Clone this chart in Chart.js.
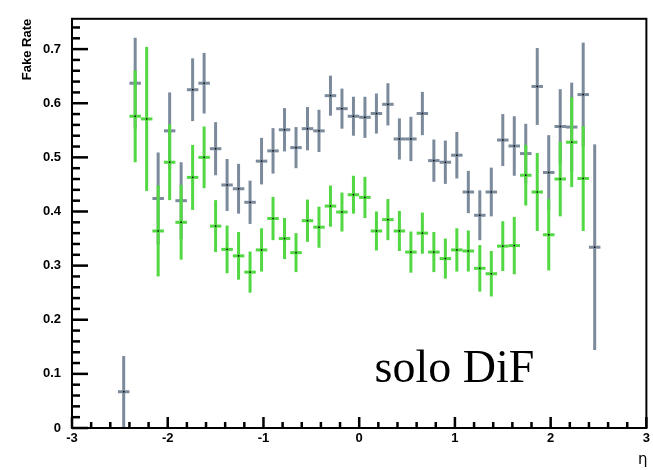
<!DOCTYPE html>
<html>
<head>
<meta charset="utf-8">
<title>Fake Rate vs eta</title>
<script src="https://cdn.jsdelivr.net/npm/chart.js@4.4.1/dist/chart.umd.min.js"></script>
<style>
    html, body { margin: 0; padding: 0; background: #fff; }
    #wrap { width: 653px; height: 470px; }
</style>
</head>
<body>
<div id="wrap"><canvas id="fakeRateChart" width="653" height="470"></canvas></div>
<script>
// bin centres in eta (bins are 0.12 wide)
const etaCenters = [
    -2.46, -2.34, -2.22, -2.10, -1.98, -1.86, -1.74, -1.62, -1.50, -1.38,
    -1.26, -1.14, -1.02, -0.90, -0.78, -0.66, -0.54, -0.42, -0.30, -0.18,
    -0.06, 0.06, 0.18, 0.30, 0.42, 0.54, 0.66, 0.78, 0.90, 1.02,
    1.14, 1.26, 1.38, 1.50, 1.62, 1.74, 1.86, 1.98, 2.10, 2.22,
    2.34, 2.46
];
const binWidth = 0.12;

// grey histogram
const greyRate = [
    0.067, 0.637, null, 0.424, 0.549, 0.420, 0.625, 0.637, 0.516, 0.449,
    0.442, 0.417, 0.493, 0.512, 0.551, 0.518, 0.553, 0.549, 0.614, 0.590,
    0.576, 0.574, 0.581, 0.598, 0.534, 0.534, 0.581, 0.494, 0.491, 0.504,
    0.436, 0.393, 0.436, 0.532, 0.521, 0.507, 0.631, 0.472, 0.557, 0.556,
    0.616, 0.334
];
const greyErr = [
    0.066, 0.084, null, 0.085, 0.071, 0.071, 0.058, 0.056, 0.049, 0.048,
    0.046, 0.040, 0.043, 0.042, 0.040, 0.038, 0.040, 0.039, 0.037, 0.037,
    0.036, 0.038, 0.037, 0.039, 0.038, 0.041, 0.040, 0.039, 0.040, 0.043,
    0.039, 0.046, 0.045, 0.048, 0.055, 0.055, 0.071, 0.069, 0.069, 0.082,
    0.096, 0.190
];

// green histogram
const greenRate = [
    null, 0.576, 0.571, 0.364, 0.491, 0.380, 0.463, 0.500, 0.373, 0.330,
    0.318, 0.288, 0.329, 0.387, 0.350, 0.324, 0.383, 0.371, 0.410, 0.399,
    0.431, 0.426, 0.364, 0.385, 0.364, 0.325, 0.360, 0.325, 0.313, 0.329,
    0.327, 0.295, 0.285, 0.336, 0.337, 0.467, 0.436, 0.357, 0.460, 0.528,
    0.461, null
];
const greenErr = [
    null, 0.085, 0.133, 0.084, 0.070, 0.069, 0.060, 0.057, 0.048, 0.044,
    0.044, 0.038, 0.040, 0.040, 0.038, 0.036, 0.039, 0.038, 0.038, 0.036,
    0.035, 0.038, 0.036, 0.038, 0.037, 0.038, 0.038, 0.037, 0.037, 0.040,
    0.038, 0.043, 0.042, 0.046, 0.053, 0.056, 0.072, 0.066, 0.069, 0.083,
    0.097, null
];

// tick positions along each axis
const xMajorTicks = [-3, -2, -1, 0, 1, 2, 3];
const yMajorTicks = [0, 0.1, 0.2, 0.3, 0.4, 0.5, 0.6, 0.7];

(function(){
    "use strict";

    const GREY = 'rgb(124, 139, 156)';
    const GREEN = 'rgb(82, 216, 66)';

    /**
     * Turns one histogram into scatter points carrying their error.
     * @param {list} rate - bin contents
     * @param {list} err - symmetric errors
    */
    function toPoints(rate, err) {
        const pts = [];
        rate.forEach((v, i) => {
            if (v === null) return;
            pts.push({ x: etaCenters[i], y: v, e: err[i] });
        });
        return pts;
    }

    // inward ticks: five subdivisions between major ticks
    function drawTicks(chart) {
        const ctx = chart.ctx;
        const xs = chart.scales.x;
        const ys = chart.scales.y;
        const a = chart.chartArea;
        const w = 2.5;
        ctx.save();
        ctx.fillStyle = '#000';
        for (let i = 0; i < xMajorTicks.length; i++) {
            const v0 = xMajorTicks[i];
            const x0 = xs.getPixelForValue(v0);
            ctx.fillRect(x0 - w / 2, a.bottom - 11, w, 11);
            if (i + 1 < xMajorTicks.length) {
                const step = (xMajorTicks[i + 1] - v0) / 5;
                for (let j = 1; j < 5; j++) {
                    const xm = xs.getPixelForValue(v0 + j * step);
                    ctx.fillRect(xm - w / 2, a.bottom - 6, w, 6);
                }
            }
        }
        for (let i = 0; i < yMajorTicks.length; i++) {
            const v0 = yMajorTicks[i];
            const y0 = ys.getPixelForValue(v0);
            ctx.fillRect(a.left, y0 - w / 2, 16, w);
            for (let j = 1; j < 5; j++) {
                const vm = v0 + j * 0.02;
                if (vm > ys.max) break;
                const ym = ys.getPixelForValue(vm);
                ctx.fillRect(a.left, ym - w / 2, 8, w);
            }
        }
        ctx.restore();
    }

    // ROOT-like error crosses: horizontal bar over the bin, vertical bar for the error
    const errorBars = {
        id: 'errorBars',
        afterDatasetsDraw(chart) {
            const ctx = chart.ctx;
            const xs = chart.scales.x;
            const ys = chart.scales.y;
            const area = chart.chartArea;
            ctx.save();
            ctx.beginPath();
            ctx.rect(area.left, area.top, area.right - area.left, area.bottom - area.top);
            ctx.clip();
            chart.data.datasets.forEach(ds => {
                ds.data.forEach(p => {
                    const px = xs.getPixelForValue(p.x);
                    const xl = xs.getPixelForValue(p.x - binWidth / 2);
                    const xr = xs.getPixelForValue(p.x + binWidth / 2);
                    const py = ys.getPixelForValue(p.y);
                    const yl = ys.getPixelForValue(Math.max(0, p.y - p.e));
                    const yh = ys.getPixelForValue(p.y + p.e);
                    ctx.fillStyle = ds.borderColor;
                    ctx.fillRect(px - 1.5, yh, 3, yl - yh);
                    ctx.fillRect(xl, py - 1.5, xr - xl, 3);
                    ctx.fillStyle = '#000';
                    ctx.fillRect(px - 0.75, py - 0.75, 1.5, 1.5);
                });
            });
            ctx.restore();
        }
    };

    // frame, ticks and the text on the pad
    const frameAndText = {
        id: 'frameAndText',
        afterDraw(chart) {
            const ctx = chart.ctx;
            const xs = chart.scales.x;
            const ys = chart.scales.y;
            const a = chart.chartArea;
            ctx.save();
            ctx.strokeStyle = '#000';
            ctx.lineWidth = 2;
            ctx.strokeRect(a.left, a.top, a.right - a.left, a.bottom - a.top);
            drawTicks(chart);

            // axis titles
            ctx.fillStyle = '#000';
            ctx.font = 'bold 13px "Liberation Sans", Arial, sans-serif';
            ctx.save();
            ctx.translate(31, a.top);
            ctx.rotate(-Math.PI / 2);
            ctx.textAlign = 'right';
            ctx.textBaseline = 'alphabetic';
            ctx.fillText('Fake Rate', 0, 0);
            ctx.restore();

            ctx.font = '15px "DejaVu Sans", sans-serif';
            ctx.textAlign = 'right';
            ctx.fillText('η', a.right + 1, 464);

            ctx.font = '46px "Liberation Serif", "Times New Roman", serif';
            ctx.textAlign = 'left';
            ctx.fillText('solo DiF', xs.getPixelForValue(0.16), ys.getPixelForValue(0.085));
            ctx.restore();
        }
    };

    function createChart() {
        const ctx = document.getElementById('fakeRateChart').getContext('2d');
        const tickFont = { family: '"Liberation Sans", Arial, sans-serif', size: 13, weight: 'bold' };
        new Chart(ctx, {
            type: 'scatter',
            data: {
                datasets: [
                    {
                        label: 'grey',
                        data: toPoints(greyRate, greyErr),
                        borderColor: GREY,
                        backgroundColor: GREY,
                        pointRadius: 0,
                    }, {
                        label: 'green',
                        data: toPoints(greenRate, greenErr),
                        borderColor: GREEN,
                        backgroundColor: GREEN,
                        pointRadius: 0,
                    }
                ]
            },
            options: {
                responsive: false,
                animation: false,
                layout: { padding: { top: 6, right: 6, left: 0, bottom: 0 } },
                scales: {
                    x: {
                        type: 'linear',
                        min: -3,
                        max: 3,
                        grid: { display: false, drawTicks: false },
                        border: { display: false },
                        ticks: {
                            stepSize: 1,
                            color: '#000',
                            font: tickFont,
                            padding: 3,
                            maxRotation: 0,
                        },
                        afterFit: s => { s.height = 42; }
                    },
                    y: {
                        type: 'linear',
                        min: 0,
                        max: 0.756,
                        grid: { display: false, drawTicks: false },
                        border: { display: false },
                        ticks: {
                            stepSize: 0.1,
                            includeBounds: false,
                            color: '#000',
                            font: tickFont,
                            padding: 11,
                            callback: v => String(+v.toFixed(1)),
                        },
                        afterFit: s => { s.width = 72; }
                    }
                },
                plugins: {
                    legend: { display: false },
                    tooltip: { enabled: false }
                }
            },
            plugins: [errorBars, frameAndText]
        });
    }

    createChart();
})();
</script>
</body>
</html>
